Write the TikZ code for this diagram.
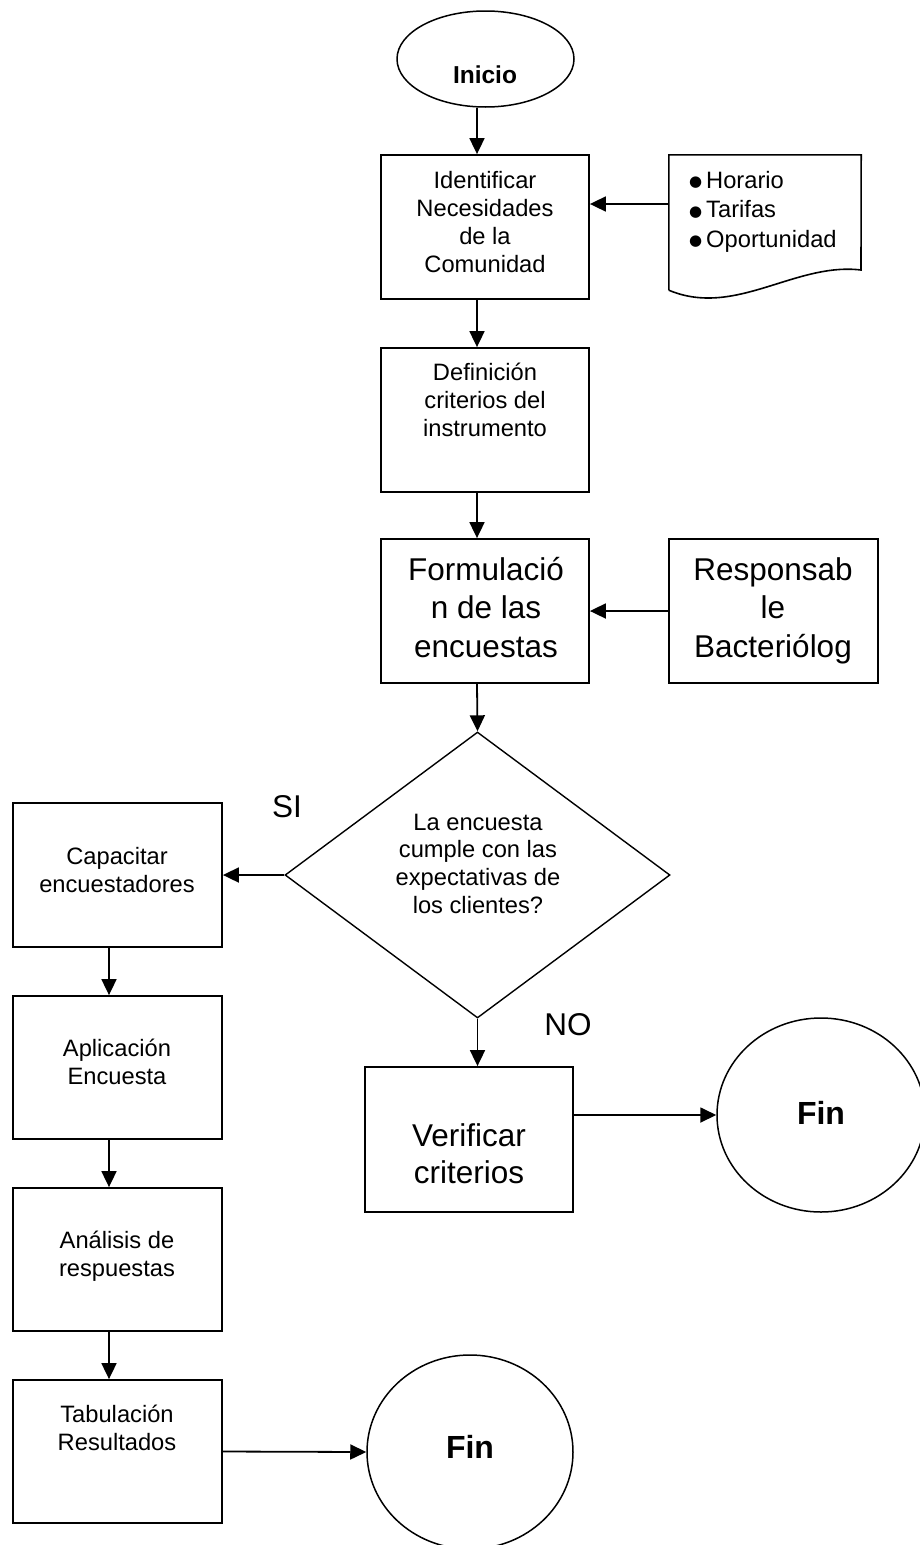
\documentclass[tikz,border=0pt]{standalone}
\usepackage{fontspec}
\setmainfont{Liberation Sans}
\newfontfamily\djvfont{DejaVu Sans}
\usetikzlibrary{shapes.geometric,arrows.meta}
\newcommand\fsml{\fontsize{23.7}{28}\selectfont}
\newcommand\fbg{\fontsize{31.5}{38.5}\selectfont}
\newcommand\stk[1]{\begin{tabular}[t]{@{}c@{}}#1\end{tabular}}
\newcommand\bul{\makebox[17pt][l]{\raisebox{1.5pt}{\fontsize{15}{15}\selectfont\djvfont ●}}}
\tikzset{
  box/.style={draw, line width=1.8pt, minimum width=208pt, minimum height=144pt, inner sep=0pt},
  oval/.style={draw, ellipse, line width=1.5pt, inner sep=0pt},
  dia/.style={draw, diamond, line width=1.4pt, inner sep=0pt, minimum width=385pt, minimum height=286pt},
  txt/.style={inner sep=0pt, anchor=base},
  arr/.style={line width=1.8pt, -{Triangle[length=16pt,width=15pt]}},
}
\begin{document}
\begin{tikzpicture}[x=1pt,y=-1pt]
\useasboundingbox (0,0) rectangle (920,1545);
\coordinate (colA) at (477,0);
\coordinate (colB) at (109,0);
\coordinate (rowD) at (0,204);
% shapes
\node[oval, minimum width=177pt, minimum height=96pt] (inicio) at (485.5,59) {};
\node[box] (b1) at (485,227) {};
\node[inner sep=0pt, minimum width=192pt, minimum height=135pt] (doc) at (765,222.5) {};
\draw[line width=1.6pt] (doc.south west) -- (doc.north west) -- (doc.north east) -- (861,270)
  .. controls (795,262) and (735,318) .. (doc.south west);
\node[box] (b2) at (485,420) {};
\node[box] (b3) at (485,611) {};
\node[box, minimum width=209pt] (resp) at (773.5,611) {};
\node[dia] (q) at (477.5,875) {};
\node[box, minimum width=209pt] (cap) at (117.5,875) {};
\node[box, minimum width=209pt, minimum height=143pt] (apl) at (117.5,1067.5) {};
\node[box, minimum width=209pt, minimum height=143pt] (ana) at (117.5,1259.5) {};
\node[box, minimum width=209pt, minimum height=143pt] (tab) at (117.5,1451.5) {};
\node[box, minimum height=145pt] (ver) at (469,1139.5) {};
\node[oval, minimum width=208pt, minimum height=194pt] (fin1) at (821,1115) {};
\node[oval, minimum width=206pt, minimum height=194pt] (fin2) at (470,1452) {};
% texts
\node[txt] (tInicio) at (485,83.5) {\fontsize{24.5}{28}\selectfont\bfseries Inicio};
\node[txt] (tb1) at (485,188) {\fsml\stk{Identificar\\Necesidades\\de la\\Comunidad}};
\node[txt, anchor=base west] (tdoc) at (689,188) {\fontsize{23.7}{29.5}\selectfont\begin{tabular}[t]{@{}l@{}}\bul Horario\\\bul Tarifas\\\bul Oportunidad\end{tabular}};
\node[txt] (tb2) at (485,380) {\fsml\stk{Definición\\criterios del\\instrumento}};
\node[txt] (tb3) at (486,580) {\fbg\stk{Formulació\\n de las\\encuestas}};
\node[txt] (tresp) at (773,580) {\fbg\stk{Responsab\\le\\Bacteriólog}};
\node[txt] (tq) at (478,830) {\fontsize{23.7}{27.8}\selectfont\stk{La encuesta\\cumple con las\\expectativas de\\los clientes?}};
\node[txt] (tsi) at (287,817) {\fbg SI};
\node[txt] (tno) at (568,1035) {\fbg NO};
\node[txt] (tcap) at (117,864) {\fsml\stk{Capacitar\\encuestadores}};
\node[txt] (tapl) at (117,1056.5) {\fsml\stk{Aplicación\\Encuesta}};
\node[txt] (tana) at (117,1248) {\fsml\stk{Análisis de\\respuestas}};
\node[txt] (ttab) at (117,1422.5) {\fsml\stk{Tabulación\\Resultados}};
\node[txt] (tver) at (469,1146) {\fontsize{31.5}{37}\selectfont\stk{Verificar\\criterios}};
\node[txt] (tfin1) at (821,1124) {\fontsize{32}{36}\selectfont\bfseries Fin};
\node[txt] (tfin2) at (470,1458) {\fontsize{32}{36}\selectfont\bfseries Fin};
% connectors
\draw[arr] (inicio.south -| colA) -- (b1.north -| colA);
\draw[arr] (doc.west |- rowD) -- (b1.east |- rowD);
\draw[arr] (b1.south -| colA) -- (b2.north -| colA);
\draw[arr] (b2.south -| colA) -- (b3.north -| colA);
\draw[arr] (resp.west) -- (b3.east);
\draw[arr] (b3.south -| colA) -- (q.north);
\draw[arr] (q.west) -- (cap.east);
\draw[arr] (q.south) -- (ver.north -| q.south);
\draw[arr] (ver.east |- fin1.west) -- (fin1.west);
\draw[arr] (cap.south -| colB) -- (apl.north -| colB);
\draw[arr] (apl.south -| colB) -- (ana.north -| colB);
\draw[arr] (ana.south -| colB) -- (tab.north -| colB);
\draw[arr] (tab.east) -- (fin2.west);
\end{tikzpicture}
\end{document}
